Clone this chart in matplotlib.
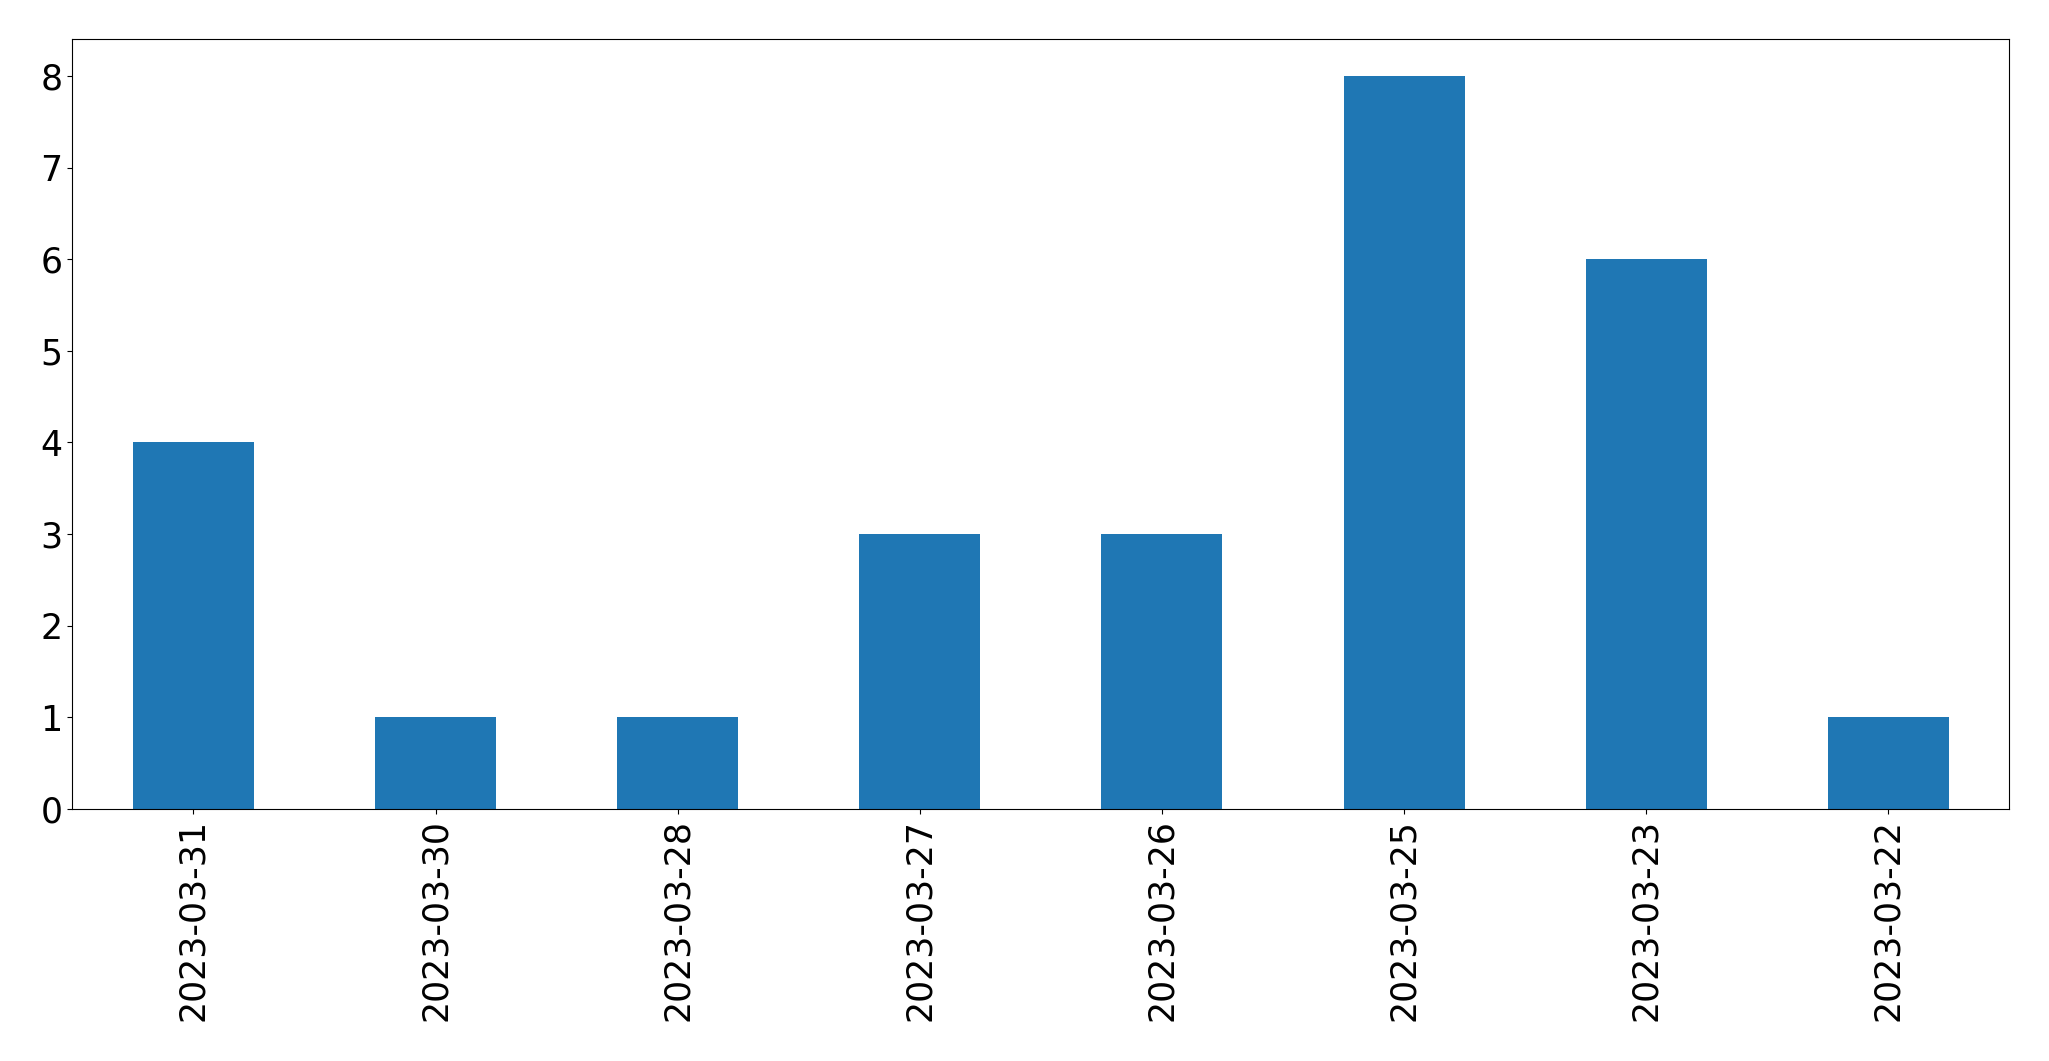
import matplotlib
matplotlib.use("Agg")
import matplotlib.pyplot as plt
import pandas as pd

dates = ["2023-03-31", "2023-03-30", "2023-03-28", "2023-03-27",
         "2023-03-26", "2023-03-25", "2023-03-23", "2023-03-22"]
counts = [4, 1, 1, 3, 3, 8, 6, 1]

s = pd.Series(counts, index=dates)

fig, ax = plt.subplots(figsize=(20.49, 10.61), dpi=100)
s.plot(kind="bar", ax=ax, color="#1f77b4")
ax.tick_params(axis="both", labelsize=25)
plt.subplots_adjust(left=0.0353, right=0.9807, top=0.963, bottom=0.2375)

fig.savefig("out.png", dpi=100)
